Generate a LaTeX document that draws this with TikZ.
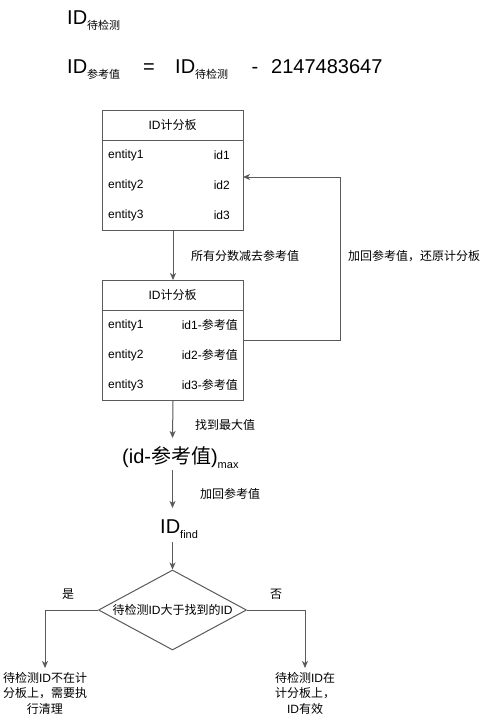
\documentclass[tikz,border=0pt]{standalone}
\usepackage{fontspec}
\setmainfont{Liberation Sans}
\newfontfamily\cjk{Noto Sans CJK SC}
\usetikzlibrary{arrows.meta,shapes.geometric}
\newcommand{\zh}[1]{{\cjk #1}}
\definecolor{lc}{RGB}{90,90,90}
\tikzset{
  conn/.style={draw=lc, line width=1pt, -{Stealth[length=7pt,width=6pt,inset=2pt]}},
  plain/.style={draw=lc, line width=1pt},
  txt/.style={inner sep=0pt, font=\fontsize{12}{14}\selectfont},
  big/.style={inner sep=0pt, font=\fontsize{20}{24}\selectfont},
  boxline/.style={draw=lc, line width=1pt},
}
\newcommand{\subz}[1]{\raisebox{-5pt}{\fontsize{11}{13}\selectfont #1}}
\begin{document}
\begin{tikzpicture}[x=1pt,y=-1pt]
\useasboundingbox[fill=white] (0,0) rectangle (490,721);

% formula lines
\node[big, anchor=base west] (f1) at (67,24) {ID\subz{\zh{待检测}}};
\node[big, anchor=base west] (f2a) at (67,73) {ID\subz{\zh{参考值}}};
\node[big, anchor=base] (f2b) at (149,73) {=};
\node[big, anchor=base west] (f2c) at (175,73) {ID\subz{\zh{待检测}}};
\node[big, anchor=base] (f2d) at (255,73) {-};
\node[big, anchor=base west] (f2e) at (271,73) {2147483647};

% box 1
\node[boxline, minimum width=141pt, minimum height=120pt, inner sep=0pt, anchor=north west] (b1) at (102,110) {};
\draw[plain] (102,140) -- (243,140);
\node[txt] (b1h) at (172.5,125) {ID\zh{计分板}};
\node[txt, anchor=west] (b1e1) at (108,155) {entity1};
\node[txt, anchor=west] (b1e2) at (108,185) {entity2};
\node[txt, anchor=west] (b1e3) at (108,215) {entity3};
\node[txt, anchor=east] (b1i1) at (230,155) {id1};
\node[txt, anchor=east] (b1i2) at (230,185) {id2};
\node[txt, anchor=east] (b1i3) at (230,215) {id3};

% box 2
\node[boxline, minimum width=141pt, minimum height=120pt, inner sep=0pt, anchor=north west] (b2) at (102,280) {};
\draw[plain] (102,310) -- (243,310);
\node[txt] (b2h) at (172.5,295) {ID\zh{计分板}};
\node[txt, anchor=west] (b2e1) at (108,325) {entity1};
\node[txt, anchor=west] (b2e2) at (108,355) {entity2};
\node[txt, anchor=west] (b2e3) at (108,385) {entity3};
\node[txt, anchor=east] (b2i1) at (238,325) {id1-\zh{参考值}};
\node[txt, anchor=east] (b2i2) at (238,355) {id2-\zh{参考值}};
\node[txt, anchor=east] (b2i3) at (238,385) {id3-\zh{参考值}};

\draw[conn] (b1.south) -- (b2.north);
\node[txt] (l1) at (245,256) {\zh{所有分数减去参考值}};

\coordinate (c1) at (243,340);
\coordinate (c2) at (243,177);
\draw[conn] (c1) -- (340,340) -- (340,177) -- (c2);
\node[txt] (l2) at (414,256) {\zh{加回参考值，还原计分板}};

% max
\node[big, anchor=base west] (mx) at (122,463) {(id-\zh{参考值})\subz{max}};
\coordinate (mxt) at (172.5,438);
\coordinate (mxb) at (172.5,470);
\draw[conn] (b2.south) -- (mxt);
\node[txt] (l3) at (225,425) {\zh{找到最大值}};

% ID find
\node[big, anchor=base west] (fd) at (160,533) {ID\subz{find}};
\coordinate (fdt) at (172.5,508);
\coordinate (fdb) at (172.5,542);
\draw[conn] (mxb) -- (fdt);
\node[txt] (l4) at (230,494) {\zh{加回参考值}};

% diamond
\node[diamond, draw=lc, line width=1pt, minimum width=148pt, minimum height=80pt, inner sep=0pt, aspect=1.85] (dm) at (172.5,610) {};
\node[txt] (dmt) at (172.5,610) {\zh{待检测}ID\zh{大于找到的}ID};
\draw[conn] (fdb) -- (dm.north);

\coordinate (yl) at (45,668);
\coordinate (nr) at (305,668);
\draw[conn] (dm.west) -- (45,610) -- (yl);
\draw[conn] (dm.east) -- (305,610) -- (nr);
\node[txt] (ly) at (68,594) {\zh{是}};
\node[txt] (ln) at (276,594) {\zh{否}};

\node[txt, align=center, anchor=north, font=\fontsize{12}{15.5}\selectfont] (ry) at (45,672) {\zh{待检测}ID\zh{不在计}\\\zh{分板上，需要执}\\\zh{行清理}};
\node[txt, align=center, anchor=north, font=\fontsize{12}{15.5}\selectfont] (rn) at (305,672) {\zh{待检测}ID\zh{在}\\\zh{计分板上，}\\ID\zh{有效}};
\end{tikzpicture}
\end{document}
